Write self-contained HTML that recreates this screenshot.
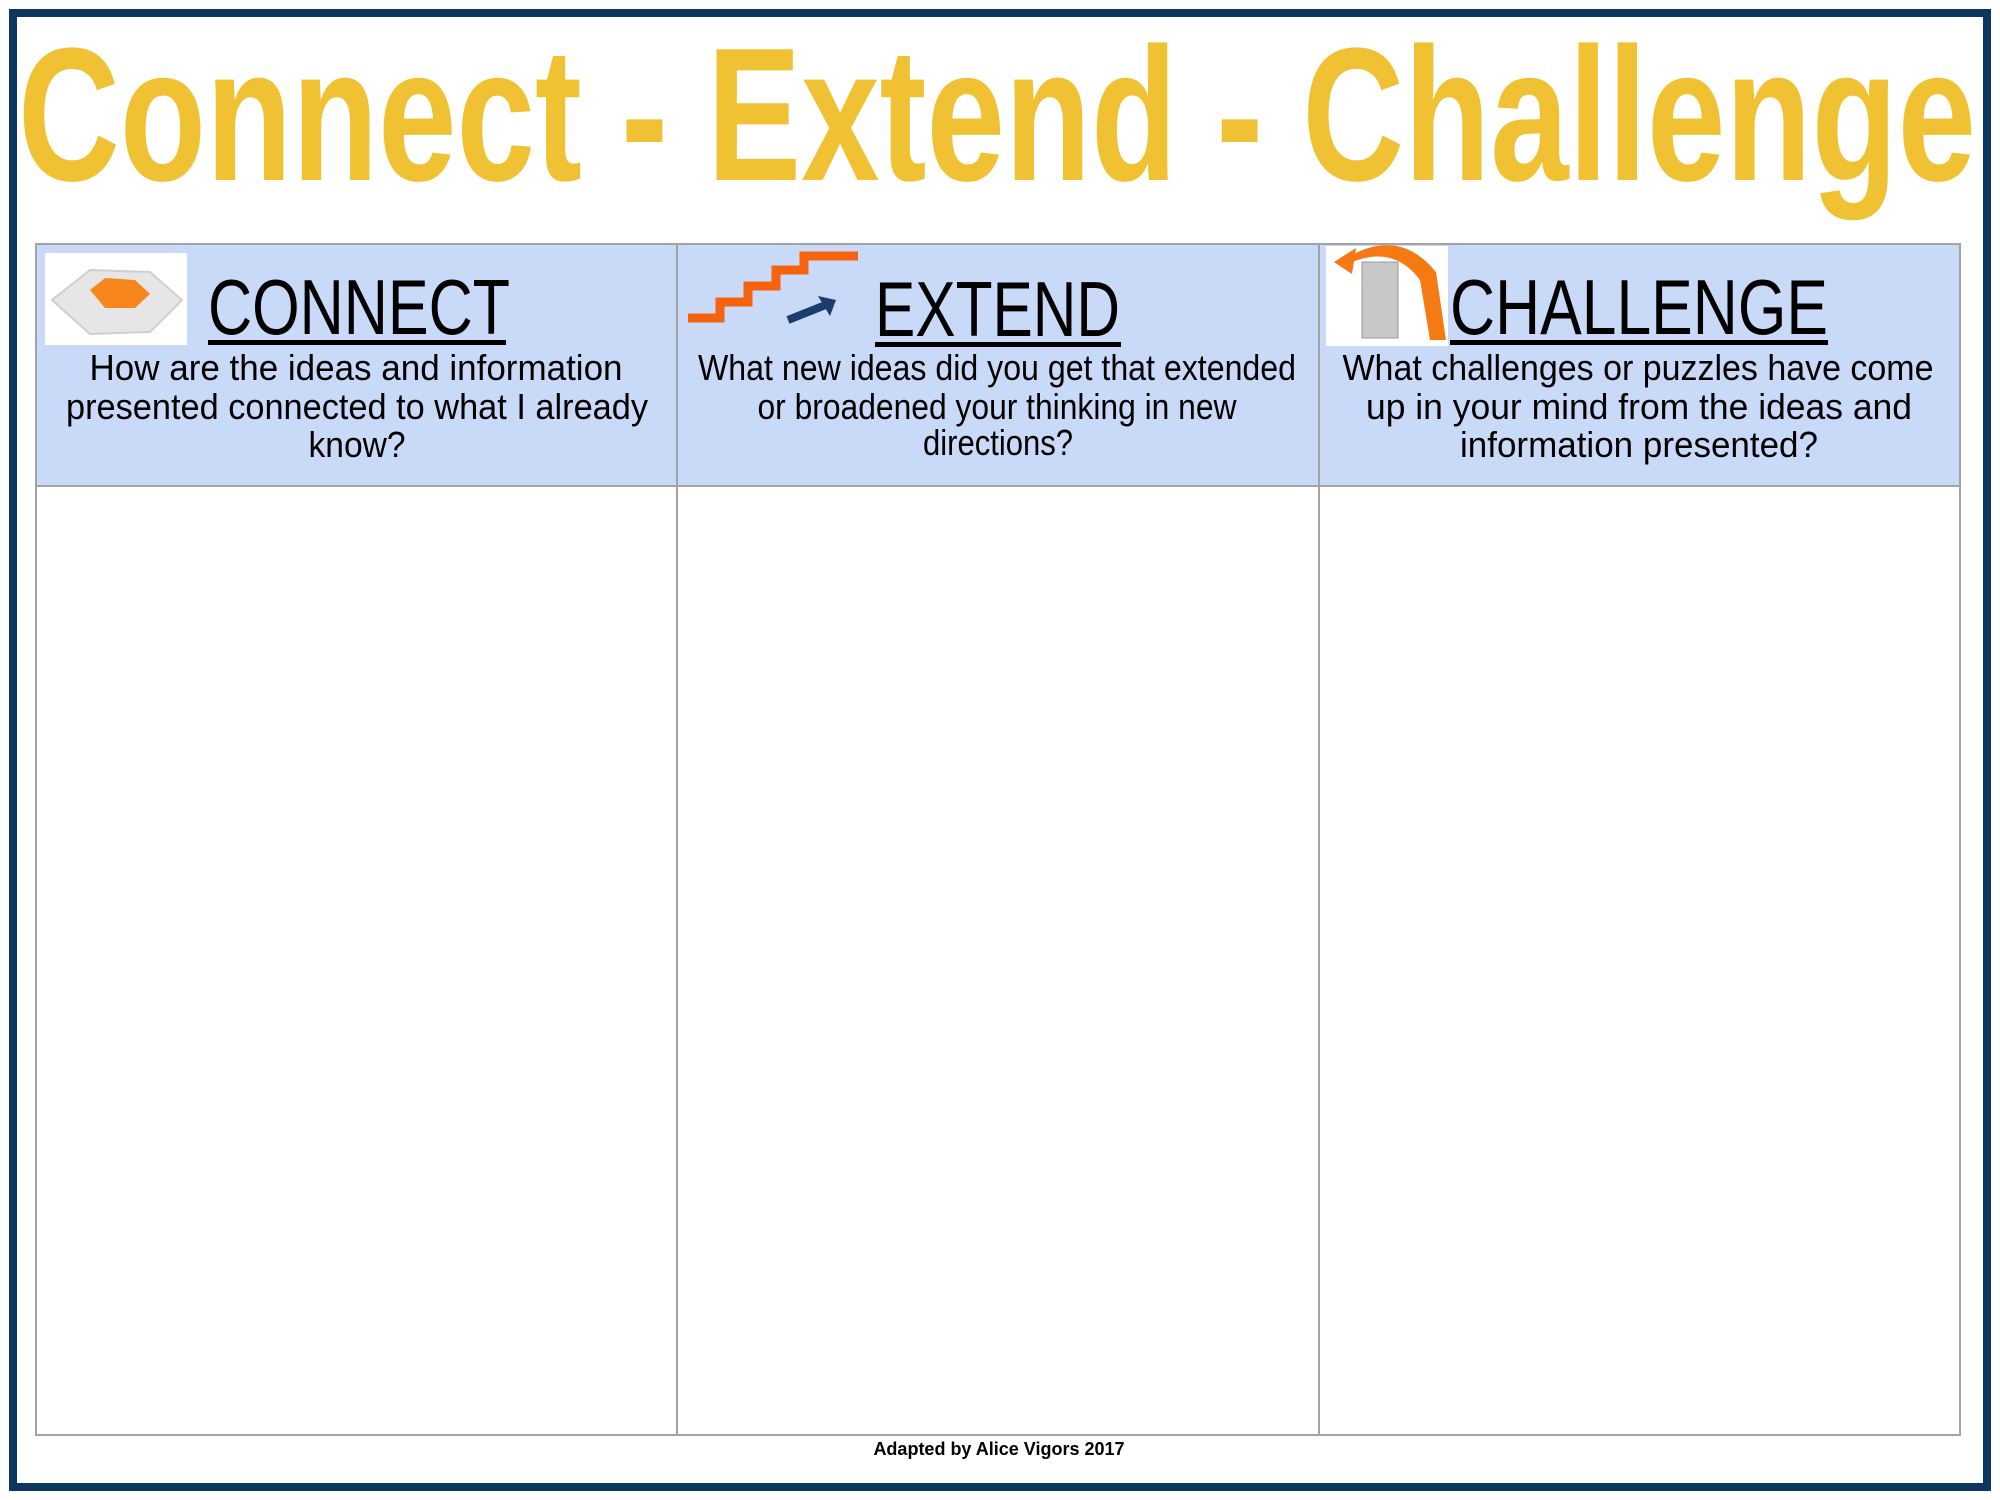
<!DOCTYPE html>
<html><head><meta charset="utf-8"><style>html,body{margin:0;padding:0;background:#fff}svg{display:block}</style></head>
<body>
<svg width="2000" height="1500" viewBox="0 0 2000 1500" xmlns="http://www.w3.org/2000/svg" font-family="'Liberation Sans', sans-serif">
<rect x="13" y="13" width="1974" height="1474" fill="#fff" stroke="#0d3761" stroke-width="8"/>
<text x="18" y="180" font-size="190" font-weight="bold" fill="#f0c233" textLength="1958" lengthAdjust="spacingAndGlyphs">Connect - Extend - Challenge</text>
<g>
<rect x="36" y="244" width="1924" height="242" fill="#c9daf8"/>
<rect x="36" y="244" width="1924" height="1191" fill="none" stroke="#a3a3a3" stroke-width="2"/>
<line x1="36" y1="486" x2="1960" y2="486" stroke="#a3a3a3" stroke-width="2"/>
<line x1="677" y1="244" x2="677" y2="1435" stroke="#a3a3a3" stroke-width="2"/>
<line x1="1319" y1="244" x2="1319" y2="1435" stroke="#a3a3a3" stroke-width="2"/>
</g>
<g>
<rect x="45" y="253" width="142" height="92" fill="#fff"/>
<path d="M52 300 L90 270 L150 272 L182 300 L150 332 L90 334 Z" fill="#e6e6e6" stroke="#cfcfcf" stroke-width="2"/>
<path d="M90 290 L105 278 L135 280 L150 294 L135 308 L105 308 Z" fill="#f7861c"/>
</g>
<g>
<polyline points="688,318 720,318 720,302 748,302 748,286 776,286 776,270 804,270 804,256 858,256" fill="none" stroke="#f5630f" stroke-width="9"/>
<line x1="788" y1="320" x2="828" y2="304" stroke="#1a3d6e" stroke-width="8"/>
<polygon points="818,296 836,300 830,316" fill="#1a3d6e"/>
</g>
<g>
<rect x="1326" y="246" width="122" height="100" fill="#fff"/>
<rect x="1362" y="262" width="36" height="76" fill="#c8c8c8" stroke="#999" stroke-width="1"/>
<path d="M1340 268 Q1390 240 1420 280 L1430 340 L1446 340 L1436 272 Q1400 228 1350 256 Z" fill="#f57a14"/>
<polygon points="1334,262 1356,248 1352,274" fill="#f57a14"/>
</g>
<g>
<text x="208" y="334" font-size="78" fill="#000" textLength="302" lengthAdjust="spacingAndGlyphs">CONNECT</text>
<rect x="208" y="340" width="298" height="5" fill="#000"/>
<g font-size="36" fill="#000" text-anchor="middle">
<text x="356" y="380" textLength="533" lengthAdjust="spacingAndGlyphs">How are the ideas and information</text>
<text x="357" y="419" textLength="582" lengthAdjust="spacingAndGlyphs">presented connected to what I already</text>
<text x="357" y="457" textLength="97" lengthAdjust="spacingAndGlyphs">know?</text>
</g></g>
<g>
<text x="875" y="336" font-size="78" fill="#000" textLength="245" lengthAdjust="spacingAndGlyphs">EXTEND</text>
<rect x="875" y="342" width="246" height="5" fill="#000"/>
<g font-size="36" fill="#000" text-anchor="middle">
<text x="997" y="380" textLength="598" lengthAdjust="spacingAndGlyphs">What new ideas did you get that extended</text>
<text x="997" y="419" textLength="479" lengthAdjust="spacingAndGlyphs">or broadened your thinking in new</text>
<text x="998" y="455" textLength="150" lengthAdjust="spacingAndGlyphs">directions?</text>
</g></g>
<g>
<text x="1450" y="334" font-size="78" fill="#000" textLength="378" lengthAdjust="spacingAndGlyphs">CHALLENGE</text>
<rect x="1450" y="340" width="378" height="5" fill="#000"/>
<g font-size="36" fill="#000" text-anchor="middle">
<text x="1638" y="380" textLength="591" lengthAdjust="spacingAndGlyphs">What challenges or puzzles have come</text>
<text x="1639" y="419" textLength="546" lengthAdjust="spacingAndGlyphs">up in your mind from the ideas and</text>
<text x="1639" y="457" textLength="358" lengthAdjust="spacingAndGlyphs">information presented?</text>
</g></g>
<rect x="38" y="488" width="638" height="946" fill="transparent"/>
<rect x="679" y="488" width="639" height="946" fill="transparent"/>
<rect x="1321" y="488" width="638" height="946" fill="transparent"/>
<text x="999" y="1455" font-size="18" font-weight="bold" fill="#000" text-anchor="middle">Adapted by Alice Vigors 2017</text>
</svg>
</body></html>
